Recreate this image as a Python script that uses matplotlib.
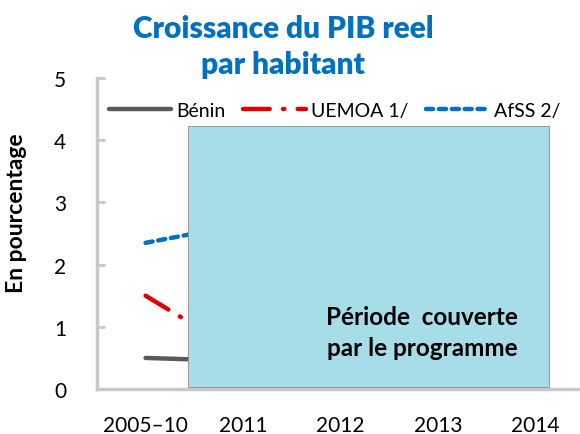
import matplotlib.pyplot as plt
from matplotlib.patches import Rectangle

# ======================
# DATA
# ======================
periods = ["2005–10", "2011", "2012", "2013", "2014"]
benin = [0.5, 0.45]
uemoa = [1.5, 0.55]
afss = [2.35, 2.65]

plt.rcParams["font.family"] = ["Lato", "DejaVu Sans"]

# ======================
# PLOT
# ======================
fig = plt.figure(figsize=(5.8, 4.35), dpi=100)
ax = fig.add_axes([0.167, 0.1034, 0.84, 0.715])

x = range(len(benin))
ax.plot(x, benin, color="#595959", linewidth=3.2, solid_capstyle="round", label="Bénin")
ax.plot(x, uemoa, color="#E00000", linewidth=3.2, linestyle=(0, (6, 3, 0.3, 3)),
        dash_capstyle="round", label="UEMOA 1/")
ax.plot(x, afss, color="#0070C0", linewidth=3.2, linestyle=(0, (1.6, 1.3)),
        dash_capstyle="round", label="AfSS 2/")

# shaded programme period
ax.add_patch(Rectangle((0.44, 0.04), 3.70, 4.19, facecolor="#A6DDE8",
                       edgecolor="#8C8C8C", linewidth=0.6, zorder=5))
ax.text(2.84, 0.92, "Période  couverte\npar le programme", ha="center", va="center",
        fontsize=17.5, fontweight="bold", linespacing=1.4, zorder=6)

ax.set_xlim(-0.5, 4.5)
ax.set_ylim(0, 5)
ax.set_xticks(range(len(periods)))
ax.set_xticklabels(periods)
ax.set_yticks(range(6))
ax.tick_params(axis="y", direction="in", length=6, width=2, color="#C8C8C8", pad=22, labelsize=15)
ax.tick_params(axis="x", length=0, pad=19, labelsize=15)

for side in ["top", "right"]:
    ax.spines[side].set_visible(False)
for side in ["left", "bottom"]:
    ax.spines[side].set_color("#C8C8C8")
    ax.spines[side].set_linewidth(2.5)

ax.set_ylabel("En pourcentage", fontsize=16.5, fontweight="bold")
ax.yaxis.set_label_coords(-0.144, 0.569)

ax.legend(loc="center left", bbox_to_anchor=(0.0, 0.895), ncol=3, frameon=False,
          fontsize=14, handlelength=3.2, handletextpad=0.3, columnspacing=0.9,
          borderaxespad=0.2)

fig.text(0.488, 0.892, "Croissance du PIB reel\npar habitant", ha="center", va="center",
         fontsize=21.5, fontweight="heavy", color="#0070C0", linespacing=1.35)

plt.savefig("out.png", dpi=100)
